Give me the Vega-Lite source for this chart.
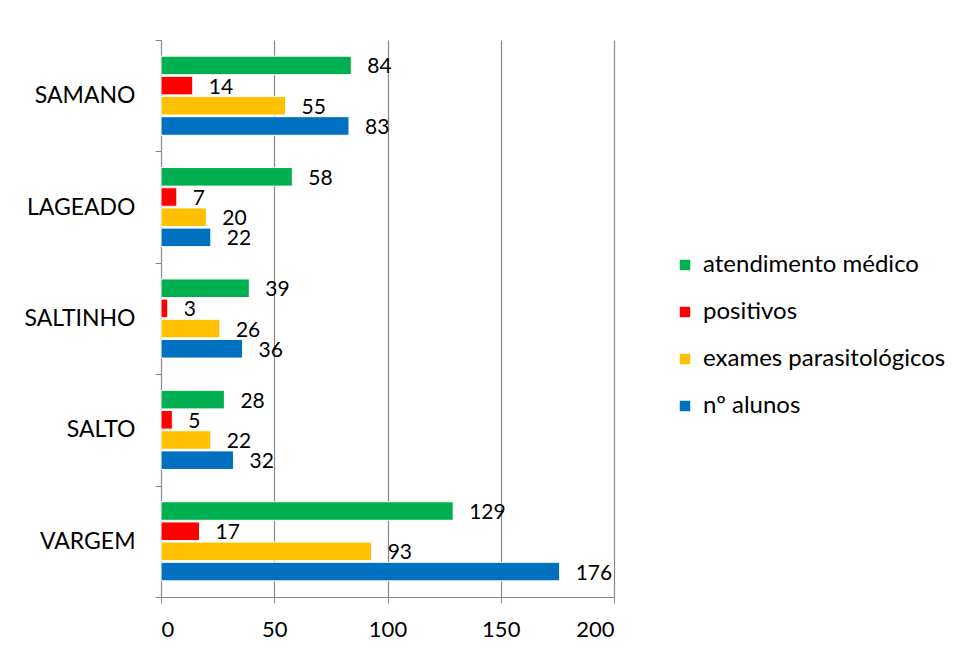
{
  "$schema": "https://vega.github.io/schema/vega-lite/v6.json",
  "autosize": "none",
  "width": 453,
  "height": 557,
  "padding": {"left": 161, "top": 40, "right": 347, "bottom": 58},
  "background": "white",
  "config": {
    "font": "Lato",
    "view": {"stroke": null}
  },
  "data": {
    "values": [
      {"escola": "SAMANO", "serie": "atendimento médico", "valor": 84},
      {"escola": "SAMANO", "serie": "positivos", "valor": 14},
      {"escola": "SAMANO", "serie": "exames parasitológicos", "valor": 55},
      {"escola": "SAMANO", "serie": "nº alunos", "valor": 83},
      {"escola": "LAGEADO", "serie": "atendimento médico", "valor": 58},
      {"escola": "LAGEADO", "serie": "positivos", "valor": 7},
      {"escola": "LAGEADO", "serie": "exames parasitológicos", "valor": 20},
      {"escola": "LAGEADO", "serie": "nº alunos", "valor": 22},
      {"escola": "SALTINHO", "serie": "atendimento médico", "valor": 39},
      {"escola": "SALTINHO", "serie": "positivos", "valor": 3},
      {"escola": "SALTINHO", "serie": "exames parasitológicos", "valor": 26},
      {"escola": "SALTINHO", "serie": "nº alunos", "valor": 36},
      {"escola": "SALTO", "serie": "atendimento médico", "valor": 28},
      {"escola": "SALTO", "serie": "positivos", "valor": 5},
      {"escola": "SALTO", "serie": "exames parasitológicos", "valor": 22},
      {"escola": "SALTO", "serie": "nº alunos", "valor": 32},
      {"escola": "VARGEM", "serie": "atendimento médico", "valor": 129},
      {"escola": "VARGEM", "serie": "positivos", "valor": 17},
      {"escola": "VARGEM", "serie": "exames parasitológicos", "valor": 93},
      {"escola": "VARGEM", "serie": "nº alunos", "valor": 176}
    ]
  },
  "encoding": {
    "y": {
      "field": "escola",
      "type": "nominal",
      "sort": ["SAMANO", "LAGEADO", "SALTINHO", "SALTO", "VARGEM"],
      "scale": {"paddingInner": 0, "paddingOuter": 0},
      "axis": {
        "title": null,
        "tickBand": "extent",
        "tickSize": 6,
        "tickColor": "#888888",
        "domainColor": "#888888",
        "labelFontSize": 23,
        "labelColor": "#000000",
        "labelPadding": 20,
        "labelFont": "Lato"
      }
    },
    "yOffset": {
      "field": "serie",
      "type": "nominal",
      "sort": ["atendimento médico", "positivos", "exames parasitológicos", "nº alunos"],
      "scale": {"paddingInner": 0.08, "paddingOuter": 0.8}
    },
    "x": {
      "field": "valor",
      "type": "quantitative",
      "scale": {"domain": [0, 200]},
      "axis": {
        "title": null,
        "values": [0, 50, 100, 150, 200],
        "grid": true,
        "gridColor": "#888888",
        "gridWidth": 1.2,
        "tickColor": "#888888",
        "tickSize": 6,
        "domainColor": "#888888",
        "labelFontSize": 22,
        "labelColor": "#000000",
        "labelPadding": 16,
        "labelFont": "Lato"
      }
    }
  },
  "layer": [
    {
      "mark": {"type": "bar", "stroke": "white", "strokeWidth": 1},
      "encoding": {
        "color": {
          "field": "serie",
          "type": "nominal",
          "sort": ["atendimento médico", "positivos", "exames parasitológicos", "nº alunos"],
          "scale": {
            "domain": ["atendimento médico", "positivos", "exames parasitológicos", "nº alunos"],
            "range": ["#00B050", "#FF0000", "#FFC000", "#0070C0"]
          },
          "legend": {
            "title": null,
            "orient": "none",
            "legendX": 512,
            "legendY": 213,
            "symbolType": "square",
            "symbolSize": 110,
            "symbolStrokeWidth": 0,
            "labelFontSize": 24,
            "labelColor": "#000000",
            "labelFont": "Lato",
            "labelLimit": 0,
            "rowPadding": 23,
            "labelOffset": 6
          }
        }
      }
    },
    {
      "mark": {"type": "text", "align": "left", "dx": 16, "dy": 2, "fontSize": 21, "color": "#000000", "font": "Lato"},
      "encoding": {
        "text": {"field": "valor", "type": "quantitative"}
      }
    }
  ]
}
